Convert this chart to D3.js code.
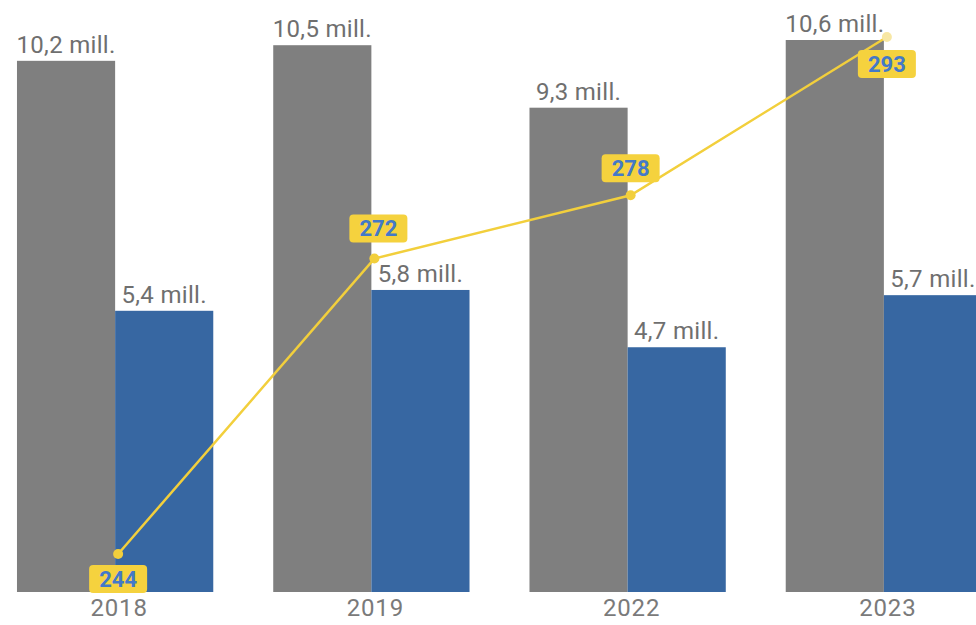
<!DOCTYPE html>
<html lang="en">
<head>
  <meta charset="utf-8">
  <title>Mill. per year</title>
  <script src="https://d3js.org/d3.v7.min.js"></script>
  <style>
    body { margin: 0; background: #fff; }
    text { font-family: Roboto, "Open Sans", sans-serif; }
  </style>
</head>
<body>
<script>
  // data
  var years = ['2018', '2019', '2022', '2023'];
  var grayValues = [10.2, 10.5, 9.3, 10.6];
  var blueValues = [5.4, 5.8, 4.7, 5.7];
  var lineValues = [244, 272, 278, 293];

  var W = 976, H = 625;
  var svg = d3.select('body').append('svg')
    .attr('width', W)
    .attr('height', H);

  var x = d3.scaleBand()
    .domain(years)
    .range([-13, 1012])
    .paddingInner(0.234)
    .paddingOuter(0.117);

  var sub = d3.scaleBand()
    .domain(['gray', 'blue'])
    .range([0, x.bandwidth()]);

  var y = d3.scaleLinear()
    .domain([0, 10.6])
    .range([592, 40]);

  var yLine = d3.scaleLinear()
    .domain([244, 293])
    .range([554, 37]);

  var fmt = function (v) { return d3.format('.1f')(v).replace('.', ',') + ' mill.'; };

  var series = [
    { key: 'gray', values: grayValues, color: '#7f7f7f' },
    { key: 'blue', values: blueValues, color: '#3767a2' }
  ];

  series.forEach(function (s) {
    svg.append('g').selectAll('rect')
      .data(s.values)
      .enter().append('rect')
      .attr('x', function (d, i) { return x(years[i]) + sub(s.key); })
      .attr('y', function (d) { return y(d); })
      .attr('width', sub.bandwidth())
      .attr('height', function (d) { return y(0) - y(d); })
      .attr('fill', s.color);

    svg.append('g').selectAll('text')
      .data(s.values)
      .enter().append('text')
      .attr('x', function (d, i) { return x(years[i]) + sub(s.key) + sub.bandwidth() / 2; })
      .attr('y', function (d) { return y(d) - 8; })
      .attr('text-anchor', 'middle')
      .attr('font-size', 24)
      .attr('letter-spacing', 0.3)
      .attr('fill', '#6f6f6f')
      .text(fmt);
  });

  // x axis labels
  var xAxis = d3.axisBottom(x).tickSize(0).tickPadding(7);
  var gx = svg.append('g')
    .attr('transform', 'translate(4,' + y(0) + ')')
    .call(xAxis);
  gx.select('.domain').remove();
  gx.selectAll('text')
    .attr('font-size', 24)
    .attr('letter-spacing', 0.8)
    .attr('fill', '#7a7a7a')
    .style('font-family', 'Roboto, sans-serif');

  // line
  var cx = function (d, i) { return x(years[i]) + x.bandwidth() / 2 + 3; };
  var line = d3.line()
    .x(cx)
    .y(function (d) { return yLine(d); });

  svg.append('path')
    .datum(lineValues)
    .attr('d', line)
    .attr('fill', 'none')
    .attr('stroke', '#f2cf3c')
    .attr('stroke-width', 2.5);

  svg.append('g').selectAll('circle')
    .data(lineValues)
    .enter().append('circle')
    .attr('cx', cx)
    .attr('cy', function (d) { return yLine(d); })
    .attr('r', 5)
    .attr('fill', function (d, i) { return i === 3 ? '#f7e7a4' : '#f2cf3c'; });

  // line labels: below for first/last, above for middle
  var offs = [25, -30, -27, 27];
  var lab = svg.append('g').selectAll('g')
    .data(lineValues)
    .enter().append('g')
    .attr('transform', function (d, i) {
      return 'translate(' + (cx(d, i) + (i === 1 ? 4 : 0)) + ',' + (yLine(d) + offs[i]) + ')';
    });

  lab.append('rect')
    .attr('x', -29)
    .attr('y', -14)
    .attr('width', 58)
    .attr('height', 28)
    .attr('rx', 4)
    .attr('fill', '#f5d23e');

  lab.append('text')
    .attr('text-anchor', 'middle')
    .attr('dy', '0.36em')
    .attr('font-size', 22)
    .attr('font-weight', 'bold')
    .attr('fill', '#4479c8')
    .text(function (d) { return d; });
</script>
</body>
</html>
